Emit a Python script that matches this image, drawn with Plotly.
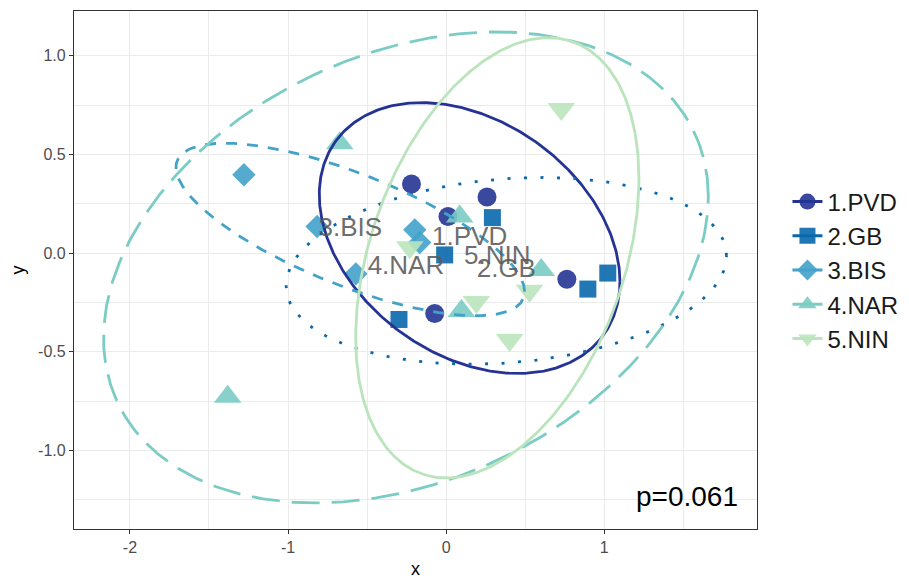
import numpy as np
import plotly.graph_objects as go

# Group definitions
groups = ["1.PVD", "2.GB", "3.BIS", "4.NAR", "5.NIN"]
colors = ["#253494", "#0868ac", "#43a2ca", "#7bccc4", "#bae4bc"]
symbols = ["circle", "square", "diamond", "triangle-up", "triangle-down"]
marker_sizes = [19, 17, 18, 24, 24]
dashes = ["solid", "3px,13.5px", "11px,10px", "28px,12px", "solid"]

# Ordination scores per group
pvd_x = [-0.219, 0.259, 0.012, 0.764, -0.072]
pvd_y = [0.350, 0.284, 0.186, -0.132, -0.306]
gb_x = [0.293, -0.009, 1.023, 0.897, -0.298]
gb_y = [0.180, -0.009, -0.101, -0.182, -0.336]
bis_x = [-1.279, -0.816, -0.198, -0.167, -0.571]
bis_y = [0.397, 0.135, 0.118, 0.054, -0.105]
nar_x = [0.086, 0.602, 0.097, -0.673, -1.382]
nar_y = [0.186, -0.085, -0.293, 0.557, -0.727]
nin_x = [0.729, -0.230, 0.528, 0.191, 0.402]
nin_y = [0.730, 0.030, -0.190, -0.248, -0.440]

xs = [pvd_x, gb_x, bis_x, nar_x, nin_x]
ys = [pvd_y, gb_y, bis_y, nar_y, nin_y]

# 95% ellipse shape per group: half-width, half-height (data units) and x-y correlation
ell_sx = [0.951, 1.393, 1.103, 1.913, 0.896]
ell_sy = [0.686, 0.473, 0.437, 1.193, 1.115]
ell_r = [-0.32, 0.16, -0.72, 0.30, 0.36]

# Axis ticks
x_ticks = [-2, -1, 0, 1]
x_ticktext = ["-2", "-1", "0", "1"]
x_minor = [-1.5, -0.5, 0.5, 1.5]
y_ticks = [-1.0, -0.5, 0.0, 0.5, 1.0]
y_ticktext = ["-1.0", "-0.5", "0.0", "0.5", "1.0"]
y_minor = [-1.25, -0.75, -0.25, 0.25, 0.75]

p_label = "p=0.061"

FONT = "Liberation Sans, Arial, Helvetica, sans-serif"

fig = go.Figure()

centers = [(float(np.mean(x)), float(np.mean(y))) for x, y in zip(xs, ys)]

# points
for g, c, s, ms, x, y in zip(groups, colors, symbols, marker_sizes, xs, ys):
    fig.add_trace(go.Scatter(
        x=x, y=y, mode="markers", showlegend=False, legendgroup=g,
        marker=dict(symbol=s, size=ms, color=c, opacity=0.9, line=dict(width=0)),
        hoverinfo="skip",
    ))

# ellipses
t = np.linspace(0, 2 * np.pi, 400)
for g, c, d, (cx, cy), sx, sy, r in zip(groups, colors, dashes, centers, ell_sx, ell_sy, ell_r):
    ex = cx + sx * np.cos(t)
    ey = cy + sy * (r * np.cos(t) + np.sqrt(1 - r * r) * np.sin(t))
    fig.add_trace(go.Scatter(
        x=ex, y=ey, mode="lines", showlegend=False, legendgroup=g,
        line=dict(color=c, width=2.8, dash=d), hoverinfo="skip",
    ))

# group labels at centroids
fig.add_trace(go.Scatter(
    x=[c[0] for c in centers], y=[c[1] for c in centers], mode="text",
    text=groups, textposition="middle center", showlegend=False,
    textfont=dict(family=FONT, size=26, color="rgba(90,90,90,0.9)"),
    hoverinfo="skip",
))

# legend keys
for g, c, s in zip(groups, colors, symbols):
    fig.add_trace(go.Scatter(
        x=[None], y=[None], mode="lines+markers", name=g, legendgroup=g,
        line=dict(color=c, width=3),
        marker=dict(symbol=s, size=16, color=c, opacity=0.9),
    ))

axis_common = dict(
    showline=True, mirror=True, linecolor="#333333", linewidth=1.3,
    ticks="outside", ticklen=4, tickwidth=1.2, tickcolor="#333333",
    showgrid=True, gridcolor="#ebebeb", gridwidth=1.2, zeroline=False,
    tickfont=dict(family=FONT, size=16, color="#4d4d4d"),
)

fig.update_xaxes(
    range=[-2.354, 1.967], tickvals=x_ticks, ticktext=x_ticktext,
    minor=dict(tickvals=x_minor, showgrid=True, gridcolor="#ebebeb", gridwidth=0.6, ticks=""),
    title=dict(text="x", font=dict(family=FONT, size=18, color="black"), standoff=10),
    **axis_common,
)
fig.update_yaxes(
    range=[-1.3974, 1.2266], tickvals=y_ticks, ticktext=y_ticktext,
    minor=dict(tickvals=y_minor, showgrid=True, gridcolor="#ebebeb", gridwidth=0.6, ticks=""),
    title=dict(text="y", font=dict(family=FONT, size=18, color="black"), standoff=8),
    **axis_common,
)

fig.add_annotation(
    x=1.862, y=-1.235, text=p_label, showarrow=False, xanchor="right", yanchor="middle",
    font=dict(family=FONT, size=28, color="black"),
)

fig.update_layout(
    width=909, height=579,
    margin=dict(l=74, r=151.5, t=11, b=50, autoexpand=False),
    paper_bgcolor="white", plot_bgcolor="white",
    font=dict(family=FONT),
    legend=dict(
        x=1.0446, xanchor="left", y=0.5, yanchor="middle",
        font=dict(family=FONT, size=24, color="#1a1a1a"),
        tracegroupgap=0, itemwidth=30, bgcolor="rgba(0,0,0,0)",
    ),
)

fig.write_html("out.html")
